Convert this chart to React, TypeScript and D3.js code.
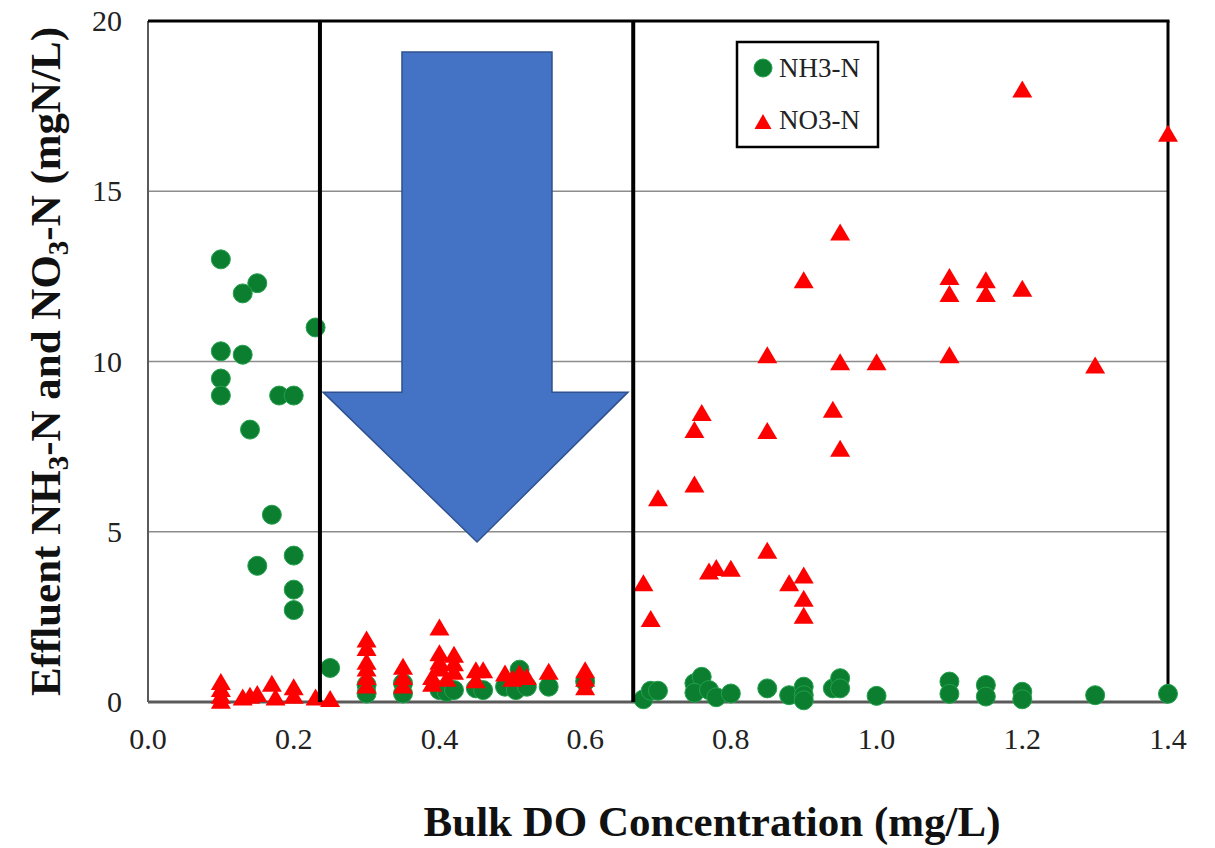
import React from "react";
import * as d3 from "d3";

// Bulk DO (mg/L) vs effluent concentration (mgN/L)
const nh3Points: [number, number][] = [
  [0.10, 13.0], [0.15, 12.3], [0.13, 12.0], [0.23, 11.0], [0.10, 10.3], [0.13, 10.2],
  [0.10, 9.5], [0.10, 9.0], [0.18, 9.0], [0.20, 9.0], [0.14, 8.0], [0.17, 5.5],
  [0.15, 4.0], [0.20, 4.3], [0.20, 3.3], [0.20, 2.7], [0.25, 1.0],
  [0.30, 0.5], [0.30, 0.25], [0.35, 0.55], [0.35, 0.25], [0.40, 0.35], [0.41, 0.3],
  [0.42, 0.35], [0.45, 0.4], [0.46, 0.35], [0.49, 0.45], [0.505, 0.35], [0.51, 0.95],
  [0.52, 0.45], [0.55, 0.45], [0.60, 0.6],
  [0.68, 0.08], [0.69, 0.33], [0.70, 0.33], [0.75, 0.55], [0.76, 0.74], [0.75, 0.27],
  [0.77, 0.35], [0.78, 0.14], [0.80, 0.25], [0.85, 0.4], [0.88, 0.2], [0.90, 0.45],
  [0.90, 0.2], [0.90, 0.05], [0.94, 0.4], [0.95, 0.7], [0.95, 0.4], [1.0, 0.18],
  [1.1, 0.6], [1.1, 0.24], [1.15, 0.5], [1.15, 0.16], [1.2, 0.3], [1.2, 0.08],
  [1.3, 0.2], [1.4, 0.24],
];

const no3Points: [number, number][] = [
  [0.10, 0.6], [0.10, 0.4], [0.10, 0.2], [0.10, 0.05], [0.13, 0.15], [0.14, 0.2],
  [0.15, 0.25], [0.17, 0.55], [0.175, 0.15], [0.20, 0.45], [0.20, 0.2], [0.23, 0.15],
  [0.25, 0.1],
  [0.30, 1.85], [0.30, 1.6], [0.30, 1.2], [0.30, 1.0], [0.30, 0.75], [0.30, 0.5],
  [0.35, 1.05], [0.35, 0.75], [0.35, 0.5], [0.40, 2.2], [0.40, 1.45], [0.40, 1.2],
  [0.40, 1.0], [0.39, 0.75], [0.39, 0.55], [0.42, 1.4], [0.42, 1.15], [0.42, 0.9],
  [0.41, 0.7], [0.45, 0.95], [0.46, 0.95], [0.45, 0.65], [0.49, 0.85], [0.50, 0.7],
  [0.51, 0.85], [0.52, 0.75], [0.55, 0.9], [0.60, 0.95], [0.60, 0.7], [0.60, 0.45],
  [0.68, 3.5], [0.69, 2.45], [0.70, 6.0], [0.75, 6.4], [0.75, 8.0], [0.76, 8.5],
  [0.77, 3.85], [0.78, 3.95], [0.80, 3.93], [0.85, 10.2], [0.85, 7.97], [0.85, 4.46],
  [0.88, 3.5], [0.90, 3.73], [0.90, 3.05], [0.90, 2.55], [0.90, 12.4], [0.94, 8.6],
  [0.95, 13.8], [0.95, 9.99], [0.95, 7.45], [1.0, 9.99], [1.1, 12.5], [1.1, 12.0],
  [1.1, 10.2], [1.15, 12.4], [1.15, 12.0], [1.2, 18.0], [1.2, 12.15], [1.3, 9.9],
  [1.4, 16.7],
];

const xTicks = [0, 0.2, 0.4, 0.6, 0.8, 1.0, 1.2, 1.4];
const yTicks = [0, 5, 10, 15, 20];
const gridValues = [5, 10, 15];

// DO boundaries of the optimal operating window
const windowBounds = [0.236, 0.666];

// Downward arrow outline in data units (DO, concentration)
const arrowOutline: [number, number][] = [
  [0.3486, 19.09], [0.5545, 19.09], [0.5545, 9.10], [0.6588, 9.10],
  [0.4516, 4.70], [0.2402, 9.10], [0.3486, 9.10],
];

const FONT = "Liberation Serif";
const GREEN = "#0B7F2F";
const GREEN_EDGE = "#23A04D";
const RED = "#FF0000";

const W = 1215;
const H = 848;
const margin = { left: 148, right: 1168, top: 21, bottom: 702 };

const x = d3.scaleLinear().domain([0, 1.4]).range([margin.left, margin.right]);
const y = d3.scaleLinear().domain([0, 20]).range([margin.bottom, margin.top]);

function trianglePath(cx: number, cy: number, w: number, h: number) {
  const p = d3.path();
  p.moveTo(cx, cy - h / 2);
  p.lineTo(cx + w / 2, cy + h / 2);
  p.lineTo(cx - w / 2, cy + h / 2);
  p.closePath();
  return p.toString();
}

export default function App() {
  const arrowPath = d3.line<[number, number]>()
    .x((d) => x(d[0]))
    .y((d) => y(d[1]))
    .curve(d3.curveLinearClosed)(arrowOutline) as string;

  return (
    <svg
      width={W}
      height={H}
      style={{ position: "absolute", left: 0, top: 0, background: "#fff" }}
    >
      <rect x={0} y={0} width={W} height={H} fill="#fff" />

      {/* horizontal gridlines */}
      {gridValues.map((v) => (
        <line key={v} x1={x(0)} x2={x(1.4)} y1={y(v)} y2={y(v)} stroke="#8c8c8c" strokeWidth={1.6} />
      ))}

      {/* plot frame */}
      <line x1={x(0)} x2={x(0)} y1={y(20)} y2={y(0)} stroke="#5a5a5a" strokeWidth={2} />
      <line x1={x(0)} x2={x(1.4) + 1.5} y1={y(20)} y2={y(20)} stroke="#000" strokeWidth={3} />
      <line x1={x(1.4)} x2={x(1.4)} y1={y(20)} y2={y(0)} stroke="#000" strokeWidth={3} />
      <line x1={x(0)} x2={x(1.4)} y1={y(0)} y2={y(0)} stroke="#5a5a5a" strokeWidth={3} />

      {/* arrow annotation */}
      <path d={arrowPath} fill="#4472C4" stroke="#2F528F" strokeWidth={1.5} />

      {/* NH3-N markers */}
      {nh3Points.map((d, i) => (
        <circle key={`a${i}`} cx={x(d[0])} cy={y(d[1])} r={9.5} fill={GREEN} stroke={GREEN_EDGE} strokeWidth={1} />
      ))}

      {/* NO3-N markers */}
      {no3Points.map((d, i) => (
        <path key={`b${i}`} d={trianglePath(x(d[0]), y(d[1]), 20, 17)} fill={RED} />
      ))}

      {/* window boundaries */}
      {windowBounds.map((v) => (
        <line key={v} x1={x(v)} x2={x(v)} y1={y(20)} y2={y(0)} stroke="#000" strokeWidth={4} />
      ))}

      {/* y tick labels */}
      {yTicks.map((v) => (
        <text key={v} x={122} y={y(v) + 10} textAnchor="end" fontFamily={FONT} fontSize={30} fill="#222">
          {v}
        </text>
      ))}

      {/* x tick labels */}
      {xTicks.map((v) => (
        <text key={v} x={x(v)} y={749} textAnchor="middle" fontFamily={FONT} fontSize={30} fill="#222">
          {d3.format(".1f")(v)}
        </text>
      ))}

      {/* axis titles */}
      <text x={712} y={836} textAnchor="middle" fontFamily={FONT} fontSize={43} fontWeight="bold" fill="#111">
        Bulk DO Concentration (mg/L)
      </text>
      <text
        transform={`translate(60, ${(y(20) + y(0)) / 2}) rotate(-90)`}
        textAnchor="middle"
        fontFamily={FONT}
        fontSize={43}
        fontWeight="bold"
        fill="#111"
      >
        Effluent NH<tspan fontSize={29} dy={8}>3</tspan>
        <tspan dy={-8}>-N and NO</tspan>
        <tspan fontSize={29} dy={8}>3</tspan>
        <tspan dy={-8}>-N (mgN/L)</tspan>
      </text>

      {/* legend */}
      <rect x={737} y={42} width={141} height={105} fill="#fff" stroke="#000" strokeWidth={2.5} />
      <circle cx={763} cy={68} r={9} fill={GREEN} stroke={GREEN_EDGE} strokeWidth={1} />
      <text x={779} y={77} fontFamily={FONT} fontSize={27} fill="#222">NH3-N</text>
      <path d={trianglePath(763, 121.5, 17, 15)} fill={RED} />
      <text x={779} y={129} fontFamily={FONT} fontSize={27} fill="#222">NO3-N</text>
    </svg>
  );
}
